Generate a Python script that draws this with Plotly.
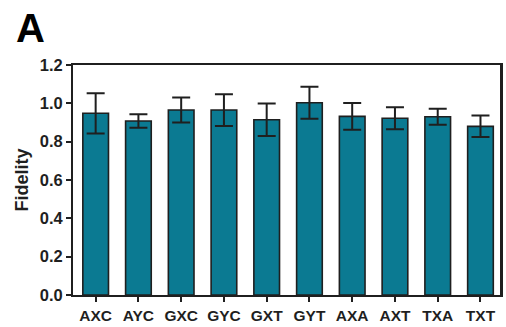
import plotly.graph_objects as go

categories = ["AXC", "AYC", "GXC", "GYC", "GXT", "GYT", "AXA", "AXT", "TXA", "TXT"]
fidelity = [0.948, 0.908, 0.965, 0.965, 0.914, 1.003, 0.932, 0.922, 0.930, 0.880]
errors = [0.105, 0.035, 0.065, 0.083, 0.085, 0.083, 0.070, 0.057, 0.042, 0.056]
y_ticks = [0.0, 0.2, 0.4, 0.6, 0.8, 1.0, 1.2]

BAR = "#0b7a92"
INK = "#1f1f1f"
FONT = "Arial, Liberation Sans, sans-serif"

fig = go.Figure()
fig.add_trace(go.Bar(
    x=categories,
    y=fidelity,
    marker=dict(color=BAR, line=dict(color=INK, width=1.6)),
    error_y=dict(type="data", array=errors, visible=True, color=INK, thickness=2, width=9),
))

fig.update_layout(
    width=506,
    height=327,
    margin=dict(l=73, r=3, t=65, b=28),
    paper_bgcolor="white",
    plot_bgcolor="white",
    bargap=0.4,
    showlegend=False,
    font=dict(family=FONT, color=INK, weight="bold"),
    xaxis=dict(
        range=[-0.53, 9.48],
        showline=True, linecolor=INK, linewidth=2, mirror=True,
        ticks="outside", ticklen=5, tickwidth=2, tickcolor=INK,
        tickfont=dict(size=15.5, family=FONT, color=INK, weight="bold"),
        showgrid=False, zeroline=False,
    ),
    yaxis=dict(
        range=[0, 1.2],
        tickvals=y_ticks,
        tickformat=".1f",
        showline=True, linecolor=INK, linewidth=2, mirror=True,
        ticks="outside", ticklen=5, tickwidth=2, tickcolor=INK,
        tickfont=dict(size=16.5, family=FONT, color=INK, weight="bold"),
        showgrid=False, zeroline=False,
        title=dict(text="Fidelity", font=dict(size=18, family=FONT, color=INK, weight="bold"), standoff=6),
    ),
    shapes=[dict(
        type="line", xref="paper", yref="paper", x0=1, x1=1, y0=0, y1=1,
        line=dict(color=INK, width=2), layer="above",
    )],
    annotations=[dict(
        text="A", xref="paper", yref="paper", x=-0.139, y=1.16,
        xanchor="left", yanchor="middle", showarrow=False,
        font=dict(size=40, family=FONT, color="black", weight="bold"),
    )],
)

fig.write_html(
    "out.html",
    config={"displayModeBar": False},
    post_script=(
        "document.body.style.margin='0px';"
        "document.body.style.overflow='hidden';"
        "document.documentElement.style.overflow='hidden';"
    ),
)
